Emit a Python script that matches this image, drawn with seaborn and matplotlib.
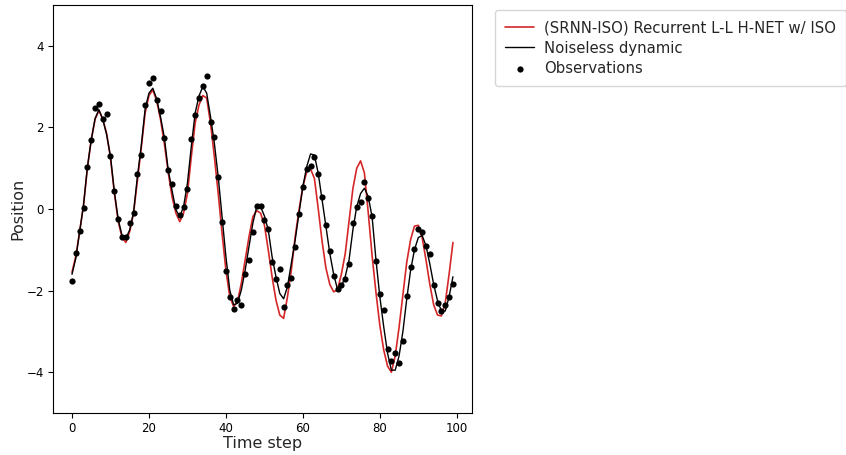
import numpy as np
import pandas as pd
import seaborn as sns
import matplotlib
matplotlib.use("Agg")
import matplotlib.pyplot as plt

# values
time_step = np.arange(100)

srnn_iso = [-1.55, -1.15, -0.55, 0.1, 1.0, 1.7, 2.2, 2.42, 2.2, 1.85,
            1.25, 0.4, -0.3, -0.7, -0.82, -0.55, -0.1, 0.7, 1.5, 2.35,
            2.78, 2.92, 2.65, 2.2, 1.6, 0.9, 0.3, -0.1, -0.31, -0.1,
            0.38, 1.28, 2.1, 2.55, 2.78, 2.72, 2.1, 1.28, 0.38, -0.6,
            -1.5, -2.15, -2.39, -2.27, -1.82, -1.25, -0.68, -0.19, -0.04, -0.1,
            -0.39, -1.0, -1.66, -2.23, -2.6, -2.68, -2.15, -1.5, -0.68, -0.02,
            0.55, 0.91, 0.98, 0.75, 0.0, -0.8, -1.45, -1.85, -2.03, -1.98,
            -1.6, -1.1, -0.3, 0.5, 1.0, 1.18, 0.88, -0.1, -1.15, -2.05,
            -2.85, -3.45, -3.85, -4.0, -3.6, -2.9, -2.1, -1.3, -0.75, -0.42,
            -0.4, -0.7, -1.25, -1.85, -2.35, -2.6, -2.62, -2.3, -1.6, -0.82]

noiseless = [-1.6, -1.2, -0.54, 0.1, 1.03, 1.69, 2.22, 2.43, 2.2, 1.82,
             1.29, 0.43, -0.25, -0.65, -0.72, -0.51, -0.08, 0.8, 1.55, 2.45,
             2.84, 2.96, 2.7, 2.26, 1.75, 0.96, 0.45, -0.02, -0.19, 0.06,
             0.63, 1.53, 2.35, 2.77, 3.0, 2.84, 2.26, 1.61, 0.79, -0.19,
             -1.17, -1.99, -2.35, -2.31, -1.99, -1.5, -0.92, -0.35, 0.06, 0.06,
             -0.17, -0.51, -1.17, -1.66, -2.07, -2.2, -1.9, -1.33, -0.76, -0.1,
             0.55, 1.04, 1.35, 1.32, 0.87, 0.22, -0.43, -1.09, -1.6, -1.97,
             -1.9, -1.66, -1.25, -0.51, 0.06, 0.38, 0.51, 0.3, -0.2, -1.25,
             -2.15, -2.88, -3.53, -3.95, -3.95, -3.6, -3.0, -2.2, -1.5, -1.0,
             -0.7, -0.65, -0.9, -1.35, -1.85, -2.25, -2.5, -2.5, -2.15, -1.66]

observations = [-1.77, -1.08, -0.54, 0.02, 1.03, 1.69, 2.48, 2.58, 2.2, 2.32,
                1.29, 0.43, -0.25, -0.69, -0.69, -0.34, -0.09, 0.85, 1.32, 2.55,
                3.09, 3.22, 2.67, 2.39, 1.75, 0.96, 0.61, 0.08, -0.15, 0.06,
                0.48, 1.72, 2.3, 2.71, 3.01, 3.26, 2.13, 1.77, 0.78, -0.33,
                -1.53, -2.16, -2.46, -2.23, -2.35, -1.6, -1.25, -0.56, 0.07, 0.07,
                -0.28, -0.5, -1.3, -1.72, -1.46, -2.39, -1.86, -1.7, -0.92, -0.13,
                0.53, 0.99, 1.06, 1.28, 0.87, 0.3, -0.38, -1.03, -1.63, -1.97,
                -1.87, -1.72, -1.36, -0.34, 0.04, 0.16, 0.65, 0.27, -0.16, -1.28,
                -2.08, -2.48, -3.42, -3.73, -3.54, -3.77, -3.24, -2.13, -1.43, -0.98,
                -0.5, -0.56, -0.91, -1.1, -1.86, -2.3, -2.5, -2.35, -2.16, -1.83]

df = pd.DataFrame({"t": time_step, "srnn": srnn_iso,
                   "clean": noiseless, "obs": observations})

sns.set_style("ticks")
plt.rcParams["font.family"] = ["DejaVu Sans"]

fig = plt.figure(figsize=(8.46, 4.55), dpi=100)
ax = fig.add_axes([0.0626, 0.0923, 0.4953, 0.8967])

sns.lineplot(data=df, x="t", y="srnn", color="#d62728", linewidth=1.2,
             label="(SRNN-ISO) Recurrent L-L H-NET w/ ISO", ax=ax)
sns.lineplot(data=df, x="t", y="clean", color="black", linewidth=1.0,
             label="Noiseless dynamic", ax=ax)
sns.scatterplot(data=df, x="t", y="obs", color="black", s=20, linewidth=0,
                label="Observations", ax=ax, zorder=3)

ax.set_ylim(-5, 5)
ax.set_yticks([-4, -2, 0, 2, 4])
ax.set_xticks([0, 20, 40, 60, 80, 100])
ax.set_xlabel("Time step", fontsize=11.5, labelpad=1)
ax.set_ylabel("Position", fontsize=11.5, labelpad=1)
ax.tick_params(labelsize=8.5, colors="black", pad=3)
for sp in ax.spines.values():
    sp.set_color("black")
    sp.set_linewidth(0.8)

ax.legend(loc="upper left", bbox_to_anchor=(1.055, 0.988), borderaxespad=0,
          fontsize=10.7, labelspacing=0.35, borderpad=0.7, handlelength=1.9,
          handletextpad=0.7, frameon=True, fancybox=True, edgecolor="#cccccc")

fig.savefig("out.png", dpi=100)
